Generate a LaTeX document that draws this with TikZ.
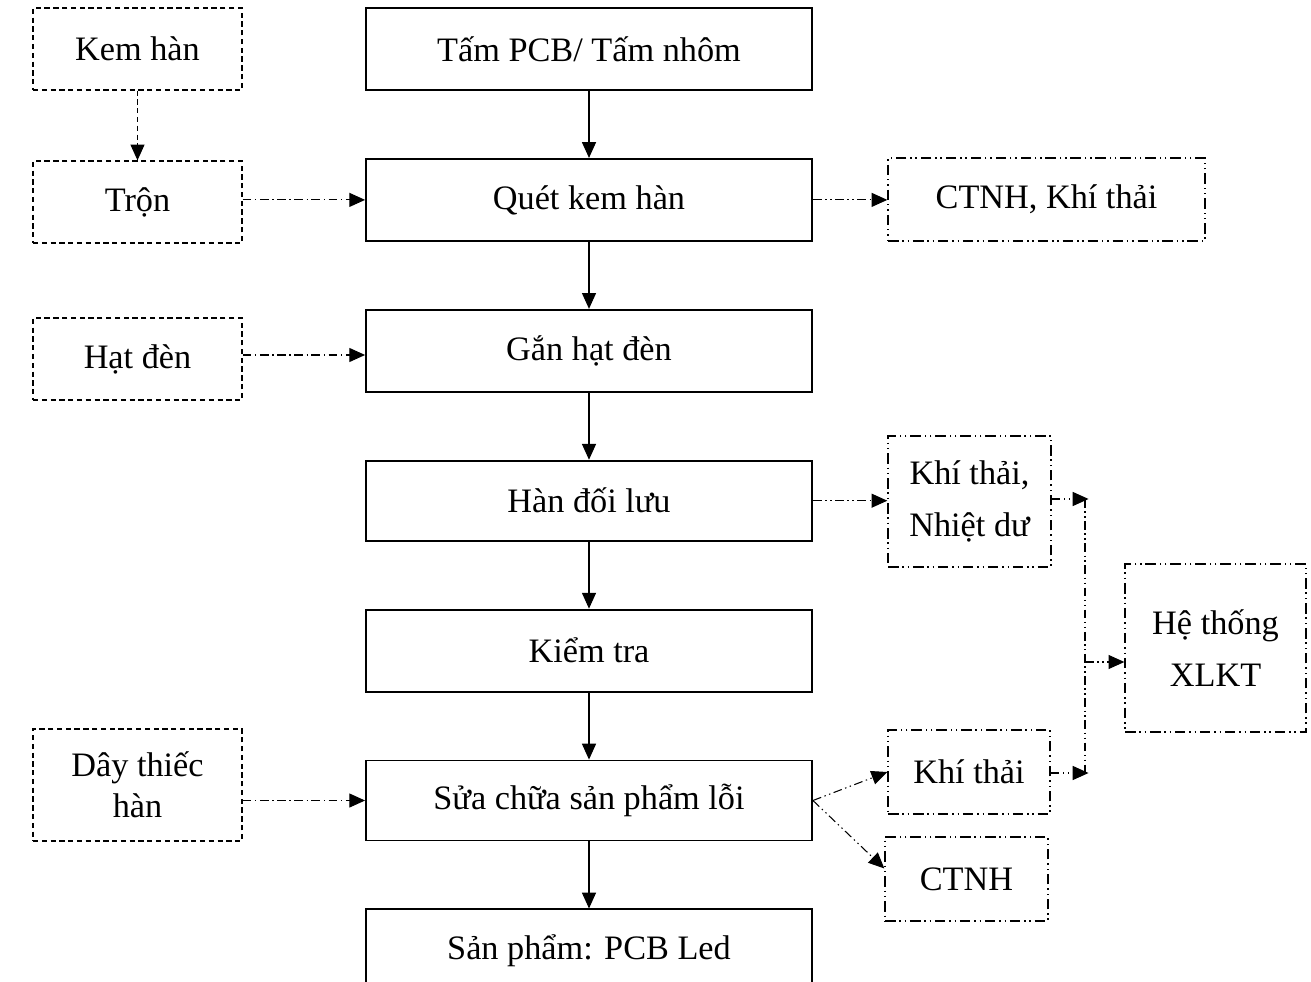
\documentclass[tikz,border=0pt]{standalone}
\usepackage{fontspec}
\setmainfont{Liberation Serif}
\usetikzlibrary{arrows.meta, positioning}
\tikzset{
  proc/.style={draw, line width=1.1pt, minimum width=8.92cm, minimum height=1.64cm},
  inbox/.style={draw, line width=0.7pt, dash pattern=on 3pt off 2pt, minimum width=4.18cm, minimum height=1.64cm, align=center},
  outbox/.style={draw, line width=0.8pt, dash pattern=on 6pt off 2.2pt on 0.8pt off 2.2pt on 0.8pt off 2.2pt, align=center},
  arr/.style={-{Triangle[length=9pt, width=8pt]}, line width=0.6pt},
  darr/.style={arr, dash pattern=on 3pt off 2pt},
  dtarr/.style={arr, dash pattern=on 5pt off 2pt on 0.8pt off 2pt},
  ddarr/.style={arr, dash pattern=on 5pt off 2pt on 0.8pt off 2pt on 0.8pt off 2pt},
}
\begin{document}
\begin{tikzpicture}[x=0.02cm, y=-0.02cm, node distance=1.34cm,
    font=\fontsize{19.5}{23.5}\selectfont]
  \useasboundingbox (0,0) rectangle (1311,982);
  \clip (0,0) rectangle (1311,982);
  % main line
  \node[proc] (pcb) at (589,49) {Tấm PCB/ Tấm nhôm};
  \node[proc, below=of pcb] (quet) {Quét kem hàn};
  \node[proc, below=of quet] (gan) {Gắn hạt đèn};
  \node[proc, below=of gan, minimum height=1.6cm] (han) {Hàn đối lưu};
  \node[proc, below=of han] (kt) {Kiểm tra};
  \node[proc, below=of kt, minimum height=1.6cm] (sua) {Sửa chữa sản phẩm lỗi};
  \node[proc, below=of sua] (sp) {Sản phẩm: PCB Led};
  % inputs
  \node[inbox] (kem) at (137.5,49) {Kem hàn};
  \node[inbox] (tron) at (137.5,202) {Trộn};
  \node[inbox] (hat) at (137.5,359) {Hạt đèn};
  \node[inbox, minimum height=2.24cm] (day) at (137.5,785) {Dây thiếc\\hàn};
  % outputs
  \node[outbox, minimum width=6.34cm, minimum height=1.66cm] (ctnh1) at (1046.5,199.5) {CTNH, Khí thải};
  \node[outbox, minimum width=3.26cm, minimum height=2.62cm] (ktnd) at (969.5,501.5) {Khí thải,\\[6pt]Nhiệt dư};
  \node[outbox, minimum width=3.62cm, minimum height=3.36cm] (xlkt) at (1215.5,648) {Hệ thống\\[6pt]XLKT};
  \node[outbox, minimum width=3.24cm, minimum height=1.68cm] (kt2) at (969,772) {Khí thải};
  \node[outbox, minimum width=3.26cm, minimum height=1.68cm] (ctnh2) at (966.5,879) {CTNH};
  \coordinate (bt) at (1085,499);
  \coordinate (bm) at (1085,662);
  \coordinate (bb) at (1085,773);

  \draw[arr] (pcb) -- (quet);
  \draw[arr] (quet) -- (gan);
  \draw[arr] (gan) -- (han);
  \draw[arr] (han) -- (kt);
  \draw[arr] (kt) -- (sua);
  \draw[arr] (sua) -- (sp);

  \draw[darr] (kem) -- (tron);
  \draw[dtarr] (tron.east |- quet) -- (quet.west);
  \draw[dtarr] (hat.east) ++(0,-4) -- (gan.west |- 0,355);
  \draw[dtarr] (day.east |- sua) -- (sua.west);

  \draw[ddarr] (quet.east) -- (ctnh1.west |- quet);
  \draw[ddarr] (han.east) -- (ktnd.west |- han);
  \draw[ddarr] (ktnd.east |- bt) -- ([xshift=2pt]bt);
  \draw[ddarr] (kt2.east |- bb) -- ([xshift=2pt]bb);
  \draw[dash pattern=on 5pt off 2pt on 0.8pt off 2pt on 0.8pt off 2pt, line width=0.6pt] (bt) -- (bb);
  \draw[ddarr] (bm) -- (xlkt.west |- bm);
  \draw[ddarr] (sua.east) -- (kt2.west);
  \draw[ddarr] (sua.east) -- ([yshift=6pt]ctnh2.west);
\end{tikzpicture}
\end{document}
